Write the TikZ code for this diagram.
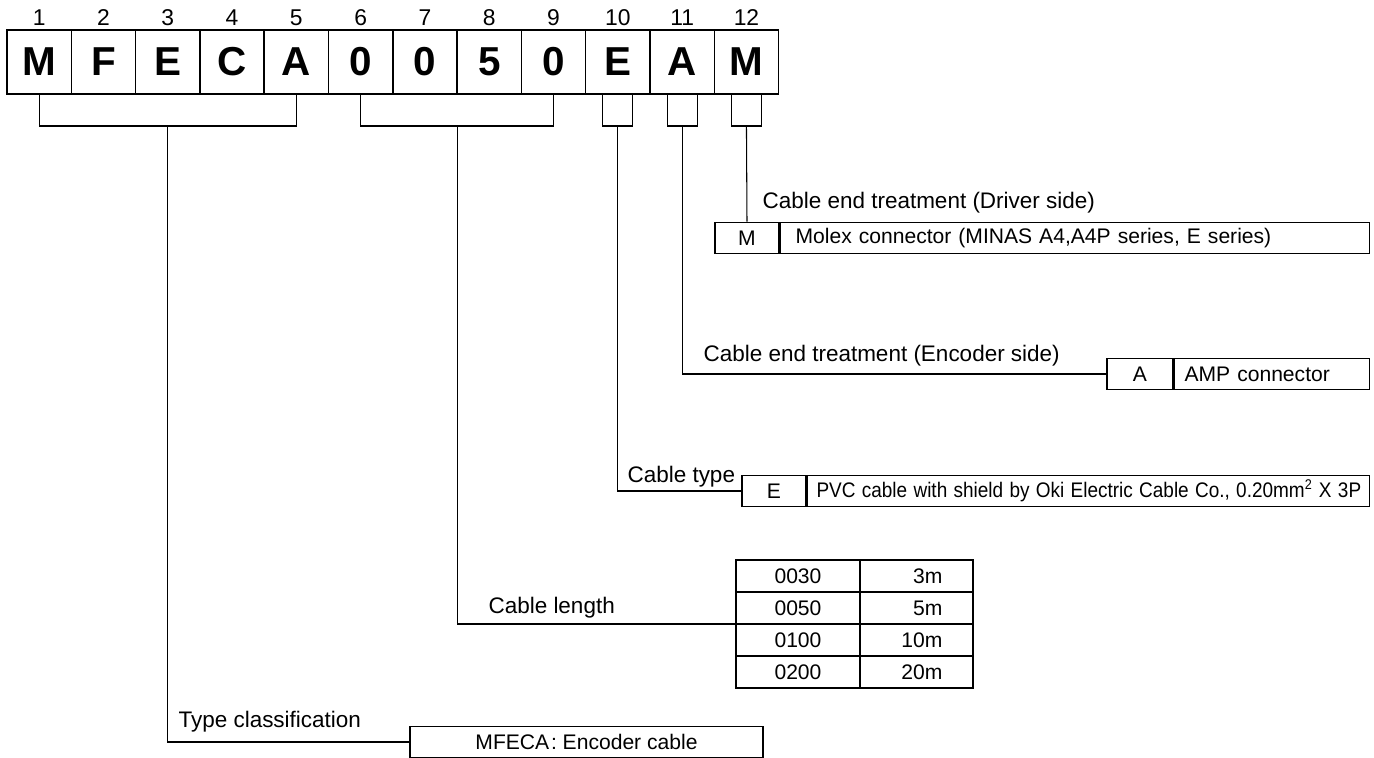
\documentclass[tikz,border=0pt]{standalone}
\usepackage{fontspec}
\setmainfont{Liberation Sans}
\usepackage{graphicx}
\usepackage{tikz}
\usetikzlibrary{calc}

\begin{document}
\begin{tikzpicture}[x=0.02cm, y=-0.02cm, line width=0.6pt,
    cell/.style={draw, line width=0.8pt, minimum width=1.286cm, minimum height=1.28cm, inner sep=0pt, font=\fontsize{23}{23}\selectfont\bfseries},
    num/.style={inner sep=0pt, font=\fontsize{13}{13}\selectfont},
    lbl/.style={anchor=west, inner sep=0pt, font=\fontsize{12.8}{14}\selectfont},
    keybox/.style={draw, line width=0.9pt, minimum height=0.62cm, inner sep=0pt, font=\fontsize{12}{14}\selectfont},
    descbox/.style={keybox, anchor=west, align=left},
    tabtxt/.style={inner sep=0pt, font=\fontsize{12}{14}\selectfont}]
    \useasboundingbox (0,0) rectangle (1374,758);

    % code letters and their positions
    \foreach \ch [count=\i] in {M,F,E,C,A,0,0,5,0,E,A,M} {
        \node[cell] (c\i) at ({7+64.3*(\i-0.5)},62) {\ch};
        \node[num] (n\i) at ({7+64.3*(\i-0.5)},18) {\i};
    }

    % brackets under the letters
    \coordinate (b1) at (167.5,126);
    \coordinate (b2) at (457.5,126);
    \draw (c1.south) |- (b1) -| (c5.south);
    \draw (c6.south) |- (b2) -| (c9.south);
    \foreach \i in {10,11,12} {
        \coordinate (b\i) at (c\i.south |- b1);
        \draw ([xshift=-0.3cm]c\i.south) |- (b\i) -| ([xshift=0.3cm]c\i.south);
    }

    % driver side
    \node[keybox, minimum width=1.28cm] (mkey) at (747,238) {M};
    \node[descbox, inner xsep=0.3cm, text width=11.18cm] (mdesc) at (mkey.east) {Molex connector (MINAS A4,A4P series, E series)};
    \node[lbl] (mlbl) at (762,203) {Cable end treatment (Driver side)};
    \draw (b12) -- (mkey.north);

    % encoder side
    \node[keybox, minimum width=1.32cm] (akey) at (1140,374) {A};
    \node[descbox, inner xsep=0.2cm, text width=3.5cm] (adesc) at (akey.east) {AMP connector};
    \node[lbl] (albl) at (703,356) {Cable end treatment (Encoder side)};
    \draw (b11) |- (akey.west);

    % cable type
    \node[keybox, minimum width=1.28cm] (ekey) at (774,491) {E};
    \node[descbox, inner xsep=0.18cm, text width=10.88cm] (edesc) at (ekey.east) {\scalebox{0.9}[1]{PVC cable with shield by Oki Electric Cable Co., 0.20mm\textsuperscript{2} X 3P}};
    \node[lbl] (elbl) at (627,477) {Cable type};
    \draw (b10) |- (ekey.west);

    % cable length
    \node[draw, line width=0.9pt, minimum width=4.74cm, minimum height=2.56cm, inner sep=0pt] (lentab) at (854.5,624) {};
    \draw (860,560) -- (860,688);
    \foreach \y in {592,624,656}
        \draw (736,\y) -- (973,\y);
    \foreach \code/\len [count=\i] in {0030/3m,0050/5m,0100/10m,0200/20m} {
        \node[tabtxt] (code\i) at (798,{544+32*\i}) {\code};
        \node[tabtxt, anchor=east] (len\i) at (943,{544+32*\i}) {\len};
    }
    \node[lbl] (llbl) at (488,608) {Cable length};
    \draw (b2) |- (lentab.west);

    % type classification
    \node[keybox, minimum width=7.06cm] (typebox) at (586.5,742) {MFECA{\kern1pt}:\ Encoder cable};
    \node[lbl] (tlbl) at (178,722) {Type classification};
    \draw (b1) |- (typebox.west);
\end{tikzpicture}
\end{document}
